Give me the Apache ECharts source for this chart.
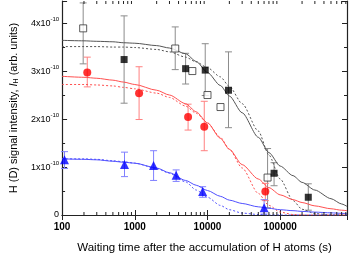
<!DOCTYPE html>
<html><head><meta charset="utf-8">
<script src="https://cdn.jsdelivr.net/npm/echarts@6/dist/echarts.min.js"></script>
<style>html,body{margin:0;padding:0;background:#fff}#c{width:350px;height:259px}</style>
</head><body><div id="c"></div>
<script>
// ---- data (intensity in units of 1e-10) ----
const curveTimes = [100,200,300,500,700,1000,2000,3000,5000,7000,10000,15000,20000,30000,50000,70000,100000,150000,200000,300000,500000,700000,830000];
const blackSolid = [3.64,3.63,3.62,3.61,3.59,3.58,3.53,3.48,3.36,3.2,2.97,2.7,2.48,2.13,1.62,1.3,1.02,0.82,0.68,0.52,0.34,0.23,0.18];
const blackDash  = [3.51,3.51,3.51,3.5,3.5,3.49,3.45,3.4,3.29,3.19,3.07,2.88,2.68,2.32,1.75,1.25,0.75,0.3,0.12,0.03,0.0,0.0,0.0];
const redSolid   = [2.89,2.87,2.85,2.81,2.77,2.72,2.6,2.5,2.32,2.15,1.92,1.6,1.37,1.05,0.75,0.57,0.42,0.32,0.26,0.19,0.13,0.1,0.09];
const redDash    = [2.72,2.72,2.71,2.69,2.66,2.63,2.54,2.45,2.27,2.12,1.92,1.62,1.37,0.98,0.45,0.2,0.06,0.01,0.0,0.0,0.0,0.0,0.0];
const blueSolid  = [1.17,1.16,1.15,1.12,1.1,1.08,0.98,0.88,0.72,0.62,0.51,0.39,0.31,0.24,0.17,0.14,0.11,0.09,0.075,0.06,0.045,0.035,0.03];
const blueDash   = [1.17,1.17,1.16,1.13,1.11,1.08,0.97,0.87,0.69,0.52,0.37,0.2,0.11,0.04,0.01,0.0,0.0,0.0,0.0,0.0,0.0,0.0,0.0];

const openSqX  = [195, 3600, 6190, 10000, 15100, 67100];
const openSqY  = [3.89, 3.47, 3.0, 2.5, 2.25, 0.78];
const openSqLo = [3.15, 3.03, null, null, null, 0.15];
const openSqHi = [4.42, 3.92, null, null, null, 1.385];

const fillSqX  = [713, 5000, 9310, 19450, 82400, 243500];
const fillSqY  = [3.24, 3.05, 3.02, 2.6, 0.87, 0.37];
const fillSqLo = [2.33, 2.73, 2.49, 1.82, 0.61, 0.1];
const fillSqHi = [4.15, 3.37, 3.57, 3.4, 1.09, 0.65];

const redX  = [222, 1146, 5410, 9030, 62500];
const redY  = [2.97, 2.54, 2.04, 1.84, 0.49];
const redLo = [2.67, 1.99, 1.77, 1.34, 0.3];
const redHi = [3.29, 3.09, 2.31, 2.37, 0.66];

const blueX  = [108, 722, 1814, 3706, 8576, 60100];
const blueY  = [1.15, 1.05, 1.03, 0.83, 0.49, 0.15];
const blueLo = [0.97, 0.8, 0.72, 0.7, 0.37, 0.02];
const blueHi = [1.32, 1.31, 1.34, 0.94, 0.59, 0.32];

const xMin = 100, xMax = 830000, yMin = 0, yMax = 4.46;
const xMinorTicks = [200,300,400,500,600,700,800,900,2000,3000,4000,5000,6000,7000,8000,9000,
  20000,30000,40000,50000,60000,70000,80000,90000,200000,300000,400000,500000,600000,700000,800000];
const yTickLabels = ['0','1x10','2x10','3x10','4x10'];

// ---- helpers ----
const zip = (xs, ys) => xs.map((x, i) => [x, ys[i]]);
const errData = (xs, lo, hi) => xs.map((x, i) => [x, lo[i], hi[i]]).filter(d => d[1] != null);
function errRender(color) {
  return function (params, api) {
    const x = api.value(0), lo = api.value(1), hi = api.value(2);
    const a = api.coord([x, hi]), b = api.coord([x, lo]);
    const h = 3.5, style = { stroke: color, lineWidth: 1 };
    return { type: 'group', children: [
      { type: 'line', shape: { x1: a[0], y1: a[1], x2: b[0], y2: b[1] }, style },
      { type: 'line', shape: { x1: a[0] - h, y1: a[1], x2: a[0] + h, y2: a[1] }, style },
      { type: 'line', shape: { x1: b[0] - h, y1: b[1], x2: b[0] + h, y2: b[1] }, style }
    ]};
  };
}
function errSeries(xs, lo, hi, color) {
  return { type: 'custom', renderItem: errRender(color), data: errData(xs, lo, hi), z: 1, silent: true,
    encode: { x: 0, y: [1, 2] } };
}
function curve(ys, color, dashed) {
  return { type: 'line', data: zip(curveTimes, ys), smooth: 0.25, smoothMonotone: 'x', symbol: 'none', z: 2, silent: true,
    lineStyle: { color, width: 1, type: dashed ? [2, 2] : 'solid' } };
}

const F = 'Liberation Sans, Arial, sans-serif';
const chart = echarts.init(document.getElementById('c'), null, { renderer: 'canvas' });
chart.setOption({
  animation: false,
  backgroundColor: '#fff',
  grid: { left: 53, right: 3, top: 1, bottom: 35 },
  xAxis: [{
    type: 'log', logBase: 10, min: xMin, max: xMax, position: 'bottom',
    name: 'Waiting time after the accumulation of H atoms (s)', nameLocation: 'middle', nameGap: 27,
    nameTextStyle: { fontFamily: F, fontSize: 11.5, color: '#000' },
    axisLine: { lineStyle: { color: '#222', width: 1.2 } },
    axisTick: { inside: true, length: 5, lineStyle: { color: '#222' } },
    axisLabel: { fontFamily: F, fontSize: 10, color: '#000', fontWeight: 'bold', margin: 7, showMaxLabel: false,
      formatter: v => String(Math.round(v)) },
    splitLine: { show: false }
  }, {
    type: 'log', logBase: 10, min: xMin, max: xMax, position: 'top',
    axisLine: { lineStyle: { color: '#222', width: 1.2 } },
    axisTick: { inside: true, length: 5, lineStyle: { color: '#222' } },
    axisLabel: { show: false }, splitLine: { show: false }
  }],
  yAxis: [{
    type: 'value', min: yMin, max: yMax, interval: 1, position: 'left',
    name: '{t|H (D) signal intensity, }{i|I}{sub|H}{t| (arb. units)}', nameLocation: 'middle', nameGap: 40,
    nameTextStyle: { rich: {
      t: { fontFamily: F, fontSize: 11, color: '#000' },
      i: { fontFamily: F, fontSize: 11, color: '#000', fontStyle: 'italic' },
      sub: { fontFamily: F, fontSize: 7, color: '#000', padding: [6, 0, 0, 0] }
    } },
    axisLine: { show: true, lineStyle: { color: '#222', width: 1.2 } },
    axisTick: { inside: true, length: 5, lineStyle: { color: '#222' } },
    minorTick: { show: true, splitNumber: 2, length: 3, lineStyle: { color: '#222' } },
    axisLabel: { margin: 3, showMaxLabel: false,
      formatter: v => { const i = Math.round(v); return i === 0 ? '{a|0}' : '{a|' + yTickLabels[i] + '}{s|-10}'; },
      rich: {
        a: { fontFamily: F, fontSize: 9, color: '#000' },
        s: { fontFamily: F, fontSize: 6, color: '#000', padding: [0, 0, 7, 0] }
      } },
    splitLine: { show: false }, minorSplitLine: { show: false }
  }, {
    type: 'value', min: yMin, max: yMax, interval: 1, position: 'right',
    axisLine: { show: true, lineStyle: { color: '#222', width: 1.2 } },
    axisTick: { inside: true, length: 5, lineStyle: { color: '#222' } },
    minorTick: { show: true, splitNumber: 2, length: 3, lineStyle: { color: '#222' } },
    axisLabel: { show: false }, splitLine: { show: false }
  }],
  series: [
    { type: 'custom', silent: true, clip: false, z: 5, data: xMinorTicks.map(v => [v, 0]),
      renderItem: (params, api) => {
        const x = api.value(0);
        const b = api.coord([x, yMin]), t = api.coord([x, yMax]);
        const style = { stroke: '#222', lineWidth: 1 };
        return { type: 'group', children: [
          { type: 'line', shape: { x1: b[0], y1: b[1], x2: b[0], y2: b[1] - 3 }, style },
          { type: 'line', shape: { x1: t[0], y1: t[1], x2: t[0], y2: t[1] + 3 }, style }
        ]};
      } },
    errSeries(openSqX, openSqLo, openSqHi, '#8c8c8c'),
    errSeries(fillSqX, fillSqLo, fillSqHi, '#8c8c8c'),
    errSeries(redX, redLo, redHi, '#ff8080'),
    errSeries(blueX, blueLo, blueHi, '#8080ff'),
    curve(blackSolid, '#555', false),
    curve(blackDash, '#555', true),
    curve(redSolid, '#ff5050', false),
    curve(redDash, '#ff5050', true),
    curve(blueSolid, '#5050ff', false),
    curve(blueDash, '#5050ff', true),
    { type: 'scatter', data: zip(openSqX, openSqY), symbol: 'rect', symbolSize: 7, z: 3,
      itemStyle: { color: '#fff', borderColor: '#333', borderWidth: 1 } },
    { type: 'scatter', data: zip(fillSqX, fillSqY), symbol: 'rect', symbolSize: 7, z: 3,
      itemStyle: { color: '#000' } },
    { type: 'scatter', data: zip(redX, redY), symbol: 'circle', symbolSize: 8, z: 3,
      itemStyle: { color: '#ff0000' } },
    { type: 'scatter', data: zip(blueX, blueY), symbol: 'triangle', symbolSize: 9, z: 3,
      itemStyle: { color: '#0000ff' } }
  ]
});
</script></body></html>
